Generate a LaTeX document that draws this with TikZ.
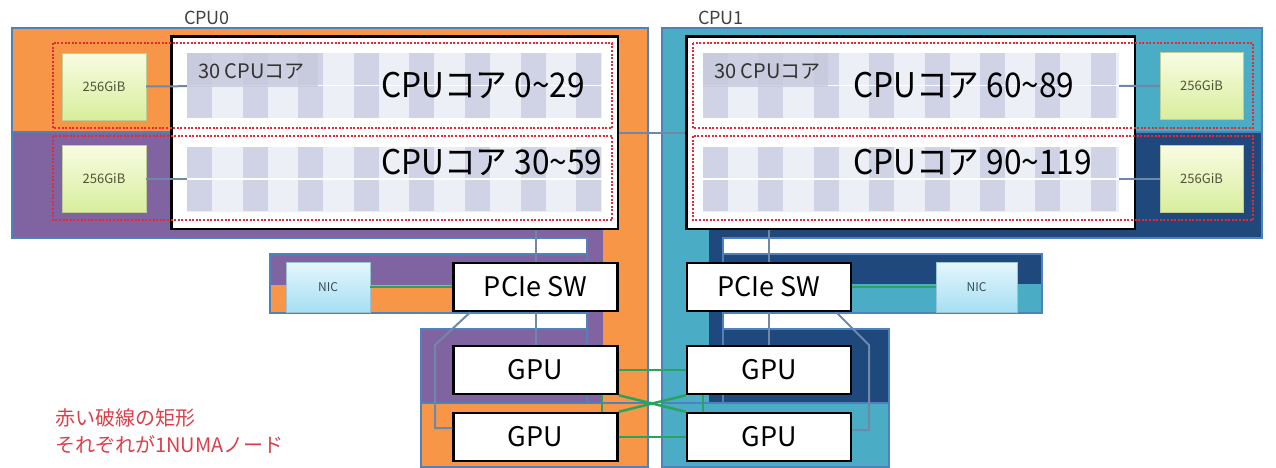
\documentclass[tikz,border=0pt]{standalone}
\usepackage{graphicx}
\usepackage{fontspec}
\setmainfont{Noto Sans CJK JP}
\definecolor{cOrange}{HTML}{F79646}
\definecolor{cPurple}{HTML}{8064A2}
\definecolor{cTeal}{HTML}{4BACC6}
\definecolor{cNavy}{HTML}{1F497D}
\definecolor{cBorder}{HTML}{4F81BD}
\definecolor{cGreen}{HTML}{2AA35E}
\definecolor{cLink}{HTML}{7088A8}
\definecolor{cNuma}{HTML}{E52A36}
\definecolor{cCore}{HTML}{EDEFF7}
\definecolor{cBar}{HTML}{CFD3E5}
\definecolor{cLabelBg}{HTML}{C6C9DB}
\definecolor{cNote}{HTML}{D9404A}
\definecolor{memTop}{HTML}{F8FCE2}
\definecolor{memBot}{HTML}{D8EE9C}
\definecolor{memText}{HTML}{4E5438}
\definecolor{nicTop}{HTML}{E4F6FC}
\definecolor{nicBot}{HTML}{A6DFF4}
\definecolor{nicText}{HTML}{3A4A5A}
\newcommand{\narrow}[1]{\scalebox{0.93}[1]{#1}}
\begin{document}
\begin{tikzpicture}[x=1pt,y=-1pt,
  bline/.style={draw=cBorder,line width=1.3pt},
  hwbox/.style={draw=black,line width=2.5pt,fill=white,minimum width=164pt,minimum height=48pt,inner sep=0pt,font=\fontsize{27}{30}\selectfont},
  cpubox/.style={draw=black,line width=2.5pt,fill=white,inner sep=0pt},
  corearea/.style={fill=cCore,inner sep=0pt,minimum width=415pt,minimum height=65pt},
  membox/.style={top color=memTop,bottom color=memBot,draw=memBot!70!gray,line width=0.4pt,minimum width=84pt,minimum height=67pt,inner sep=0pt,font=\fontsize{13}{14}\selectfont,text=memText},
  nicbox/.style={top color=nicTop,bottom color=nicBot,draw=nicBot!70!gray,line width=0.4pt,minimum width=83pt,minimum height=50pt,inner sep=0pt,font=\fontsize{12}{14}\selectfont,text=nicText},
  numa/.style={draw=cNuma,line width=2.4pt,dash pattern=on 2pt off 1.6pt},
  graylink/.style={draw=cLink,line width=2pt},
  greenlink/.style={draw=cGreen,line width=2.5pt},
  bigtext/.style={anchor=west,inner sep=0pt,font=\fontsize{34}{38}\selectfont},
  smalltext/.style={anchor=west,inner sep=0pt,font=\fontsize{20}{24}\selectfont,text=black!80},
  cpulabel/.style={inner sep=0pt,font=\fontsize{18}{20}\selectfont,text=black!75}
]
\useasboundingbox (0,0) rectangle (1276,467);
% ---------- CPU0 side backgrounds
\fill[cOrange] (12,28) rectangle (648,132);
\fill[cOrange] (603,28) rectangle (648,467);
\fill[cOrange] (421,403) rectangle (648,467);
\fill[cOrange] (270,285) rectangle (587,313);
\fill[cPurple] (12,132) rectangle (603,238);
\fill[cPurple] (587,238) rectangle (603,403);
\fill[cPurple] (270,254) rectangle (587,285);
\fill[cPurple] (421,329) rectangle (603,403);
\draw[bline] (12,28) -- (648,28) -- (648,467) -- (421,467) -- (421,329) -- (587,329) -- (587,313) -- (270,313) -- (270,254) -- (587,254) -- (587,238) -- (12,238) -- cycle;
\draw[bline] (587,238) -- (587,403);
\draw[bline] (421,403) -- (648,403);
\draw[bline] (12,132) -- (603,132);
% ---------- CPU1 side backgrounds
\fill[cTeal] (662,28) rectangle (1262,132);
\fill[cTeal] (662,28) rectangle (709,467);
\fill[cTeal] (662,403) rectangle (889,467);
\fill[cTeal] (723,284) rectangle (1042,313);
\fill[cNavy] (709,132) rectangle (1262,238);
\fill[cNavy] (709,238) rectangle (723,403);
\fill[cNavy] (723,254) rectangle (1042,284);
\fill[cNavy] (709,329) rectangle (889,403);
\draw[bline] (662,28) -- (1262,28) -- (1262,238) -- (723,238) -- (723,254) -- (1042,254) -- (1042,313) -- (723,313) -- (723,329) -- (889,329) -- (889,467) -- (662,467) -- cycle;
\draw[bline] (723,238) -- (723,403);
\draw[bline] (662,403) -- (889,403);
\draw[bline] (709,132) -- (1262,132);
% ---------- labels
\node[cpulabel] (lab0) at (207,18) {CPU0};
\node[cpulabel] (lab1) at (721,18) {CPU1};
% ---------- CPU boxes
\node[cpubox,minimum width=446.5pt,minimum height=192.5pt] (cpu0) at (394.5,132.5) {};
\node[cpubox,minimum width=448.5pt,minimum height=192.5pt] (cpu1) at (910.5,132.5) {};
\draw[graylink] (cpu0.east) -- (cpu1.west);
% core areas
\node[corearea] (c0a) at (394.5,85.5) {};
\node[corearea] (c0b) at (394.5,179) {};
\node[corearea,minimum width=416pt] (c1a) at (911,85.5) {};
\node[corearea,minimum width=416pt] (c1b) at (911,179) {};
\foreach \i in {0,...,7} {
  \fill[cBar] ({187+\i*55.6},53) rectangle ++(25,65);
  \fill[cBar] ({187+\i*55.6},147) rectangle ++(25,64);
  \fill[cBar] ({703+\i*55.4},53) rectangle ++(25,65);
  \fill[cBar] ({703+\i*55.4},147) rectangle ++(25,64);
}
\draw[white,line width=1.5pt] (c0a.west) -- (c0a.east);
\draw[white,line width=1.5pt] (c0b.west) -- (c0b.east);
\draw[white,line width=1.5pt] (c1a.west) -- (c1a.east);
\draw[white,line width=1.5pt] (c1b.west) -- (c1b.east);
\fill[cLabelBg,opacity=0.8] (187,53) rectangle (318,87);
\fill[cLabelBg,opacity=0.8] (703,53) rectangle (828,87);
% memory
\node[membox] (m0a) at (104,86.5) {256GiB};
\node[membox] (m0b) at (104,179) {256GiB};
\node[membox,minimum width=83pt] (m1a) at (1201.5,86) {256GiB};
\node[membox,minimum width=83pt] (m1b) at (1201.5,179) {256GiB};
\draw[graylink] (m0a) -- (c0a);
\draw[graylink] (m0b) -- (c0b);
\draw[graylink] (c1a) -- (m1a);
\draw[graylink] (c1b) -- (m1b);
% NUMA rectangles
\draw[numa] (53,43) rectangle (612,128);
\draw[numa] (53,136) rectangle (612,220);
\draw[numa] (693,43) rectangle (1253,128);
\draw[numa] (693,136) rectangle (1253,220);
% texts
\node[smalltext] (s0) at (198,71) {30 CPUコア};
\node[smalltext] (s1) at (714,71) {30 CPUコア};
\node[bigtext] (t0a) at (381,85) {\narrow{CPUコア 0\char`\~29}};
\node[bigtext] (t0b) at (381,162) {\narrow{CPUコア 30\char`\~59}};
\node[bigtext] (t1a) at (853,85) {\narrow{CPUコア 60\char`\~89}};
\node[bigtext] (t1b) at (853,162) {\narrow{CPUコア 90\char`\~119}};
% ---------- PCIe / GPU / NIC
\node[hwbox] (p0) at (535.5,287) {PCIe SW};
\node[hwbox] (p1) at (769,287) {PCIe SW};
\node[hwbox] (g0a) at (535.5,370) {GPU};
\node[hwbox] (g0b) at (535.5,437) {GPU};
\node[hwbox] (g1a) at (769,370) {GPU};
\node[hwbox] (g1b) at (769,437) {GPU};
\node[nicbox,minimum width=84pt] (n0) at (328,287) {NIC};
\node[nicbox,minimum width=81pt] (n1) at (976.5,287) {NIC};
\draw[graylink] (p0.north |- cpu0.south) -- (p0.north);
\draw[graylink] (p1.north |- cpu1.south) -- (p1.north);
\draw[graylink] (p0.south) -- (g0a.north);
\draw[graylink] (p1.south) -- (g1a.north);
\draw[graylink] ([xshift=18pt]p0.south west) -- (435,345) -- (435,428) -- ([yshift=9pt]g0b.west);
\draw[graylink] ([xshift=-16pt]p1.south east) -- (869,345) -- (869,430) -- ([yshift=7pt]g1b.east);
\draw[greenlink] (n0.east) -- (p0.west);
\draw[greenlink] (p1.east) -- (n1.west);
\draw[greenlink] (g0a.east) -- (g1a.west);
\draw[greenlink] (g0b.east) -- (g1b.west);
\draw[greenlink] (g0a.south east) -- (g1b.north west);
\draw[greenlink] (g0b.north east) -- (g1a.south west);
\draw[greenlink] ([xshift=-17pt]g0a.south east) -- ([xshift=-17pt]g0b.north east);
\draw[greenlink] ([xshift=17pt]g1a.south west) -- ([xshift=17pt]g1b.north west);
% note
\node[anchor=west,inner sep=0pt,align=left,text=cNote,font=\fontsize{20}{27}\selectfont] (note) at (55,431.5) {赤い破線の矩形\\それぞれが1NUMAノード};
\end{tikzpicture}
\end{document}
